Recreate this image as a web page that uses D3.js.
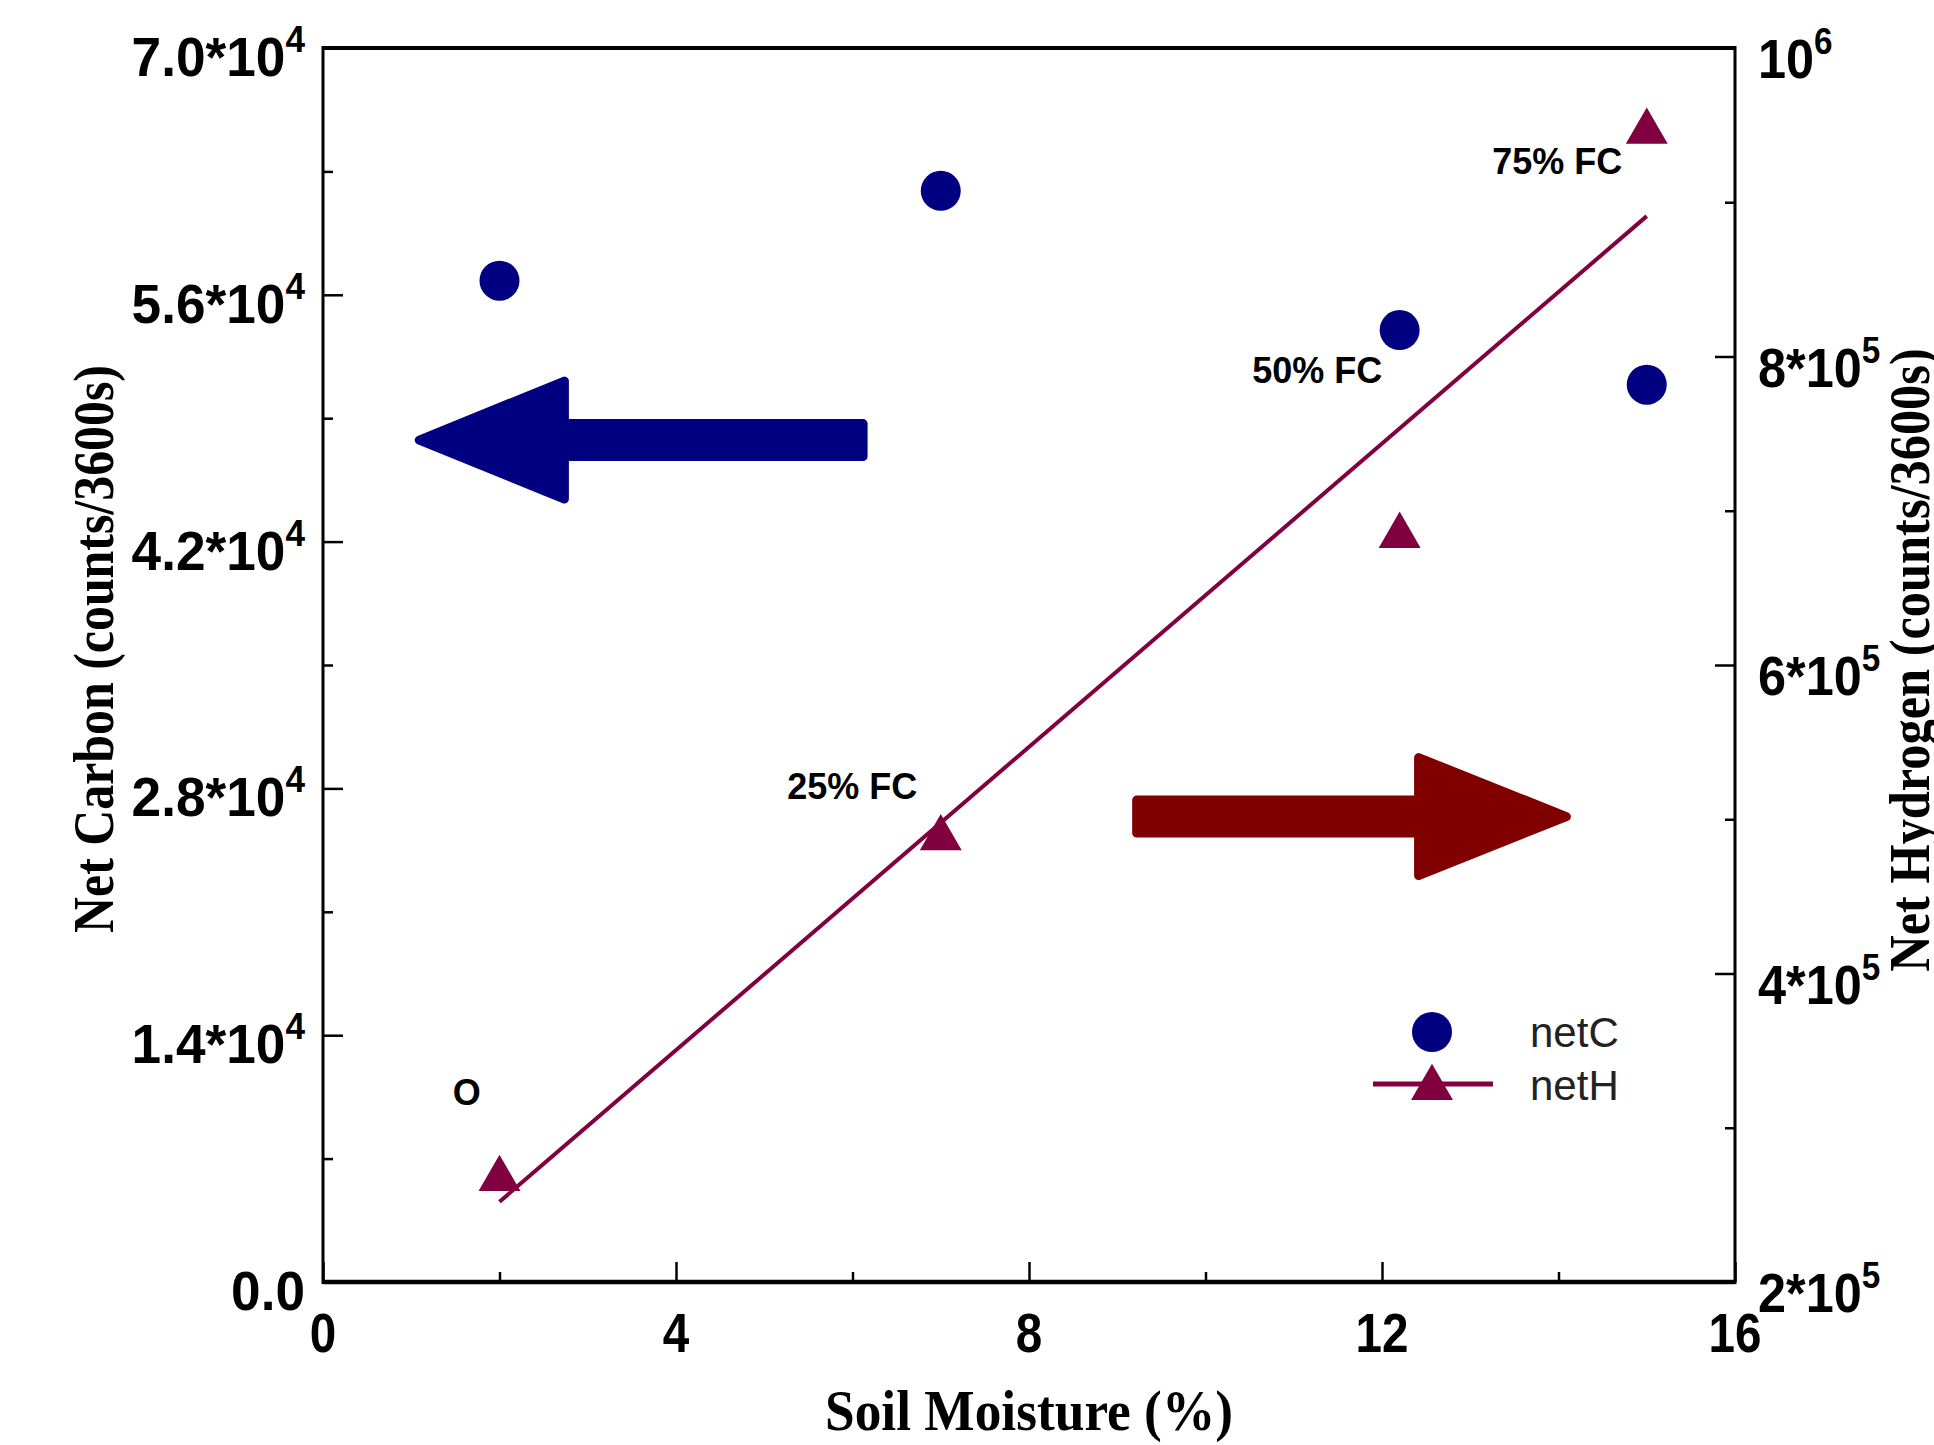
<!DOCTYPE html>
<html>
<head>
<meta charset="utf-8">
<script src="https://cdn.jsdelivr.net/npm/d3@7"></script>
<style>
  body { margin: 0; background: #fff; }
  svg { display: block; }
</style>
</head>
<body>
<div id="chart"></div>
<script>
// soil moisture (%) of the four samples
const moisture = [2, 7, 12.2, 15];
// net carbon, left axis
const netC = [56800, 61900, 54000, 50900];
// net hydrogen, right axis
const netH = [270000, 491000, 687000, 949000];
// fitted line for netH (end points)
const fitX = [2, 15];
const fitH = [252000, 891000];

const xTicks = [0, 4, 8, 12, 16];
const xMinor = [2, 6, 10, 14];
const leftTicks = [0, 14000, 28000, 42000, 56000, 70000];
const leftLabels = ["0.0", "1.4", "2.8", "4.2", "5.6", "7.0"];
const leftMinor = [7000, 21000, 35000, 49000, 63000];
const rightTicks = [200000, 400000, 600000, 800000, 1000000];
const rightBase = ["2*10", "4*10", "6*10", "8*10", "10"];
const rightSup = ["5", "5", "5", "5", "6"];
const rightMinor = [300000, 500000, 700000, 900000];

// field capacity notes (x in %, y on the hydrogen axis)
const fcText = ["O", "25% FC", "50% FC", "75% FC"];
const fcX = [1.47, 5.26, 10.53, 13.25];
const fcY = [315000, 513000, 783000, 918000];

// big arrows pointing to each axis: [tip, head base, tail] in %, y on carbon axis
const arrowX = [[1.0, 2.69, 6.12], [14.18, 12.46, 9.22]];
const arrowY = [47760, 26400];
const arrowColor = ["#000080", "#800000"];

const width = 1934, height = 1445;
const m = { left: 323, right: 1735, top: 48, bottom: 1282 };
const blue = "#000080", plum = "#800040";
const sans = "'Liberation Sans', Arial, sans-serif";
const serif = "'Liberation Serif', 'Times New Roman', serif";

const svg = d3.select("#chart").append("svg")
    .attr("width", width)
    .attr("height", height);

svg.append("rect").attr("width", width).attr("height", height).attr("fill", "#fff");

const x = d3.scaleLinear().domain([0, 16]).range([m.left, m.right]);
const yC = d3.scaleLinear().domain([0, 70000]).range([m.bottom, m.top]);
const yH = d3.scaleLinear().domain([200000, 1000000]).range([m.bottom, m.top]);

// ticks, pointing inward
function tickAxis(axis, vals, size, tr) {
    svg.append("g")
        .attr("transform", tr)
        .call(axis.tickValues(vals).tickSize(size).tickFormat(""))
        .call(g => g.select(".domain").remove())
        .call(g => g.selectAll("line").attr("stroke", "#000").attr("stroke-width", 2.5));
}
tickAxis(d3.axisBottom(x), xTicks, -20, `translate(0,${m.bottom})`);
tickAxis(d3.axisBottom(x), xMinor, -10, `translate(0,${m.bottom})`);
tickAxis(d3.axisLeft(yC), leftTicks, -20, `translate(${m.left},0)`);
tickAxis(d3.axisLeft(yC), leftMinor, -10, `translate(${m.left},0)`);
tickAxis(d3.axisRight(yH), rightTicks, -20, `translate(${m.right},0)`);
tickAxis(d3.axisRight(yH), rightMinor, -10, `translate(${m.right},0)`);

// frame
svg.append("line").attr("x1", m.left).attr("x2", m.right).attr("y1", m.top).attr("y2", m.top)
    .attr("stroke", "#000").attr("stroke-width", 4);
svg.append("line").attr("x1", m.left).attr("x2", m.right).attr("y1", m.bottom).attr("y2", m.bottom)
    .attr("stroke", "#000").attr("stroke-width", 4.5);
svg.append("line").attr("x1", m.left).attr("x2", m.left).attr("y1", m.top - 2).attr("y2", m.bottom + 2)
    .attr("stroke", "#000").attr("stroke-width", 3);
svg.append("line").attr("x1", m.right).attr("x2", m.right).attr("y1", m.top - 2).attr("y2", m.bottom + 2)
    .attr("stroke", "#000").attr("stroke-width", 3);

// x tick labels
svg.append("g").selectAll("text")
    .data(xTicks)
    .join("text")
    .attr("transform", d => `translate(${x(d)},1352) scale(0.85,1)`)
    .attr("text-anchor", "middle")
    .style("font-family", sans).style("font-weight", "bold").style("font-size", "56px")
    .text(d => d);

// left tick labels
const lt = svg.append("g").selectAll("text")
    .data(leftTicks)
    .join("text")
    .attr("transform", d => `translate(305,${yC(d) + 28}) scale(0.95,1)`)
    .attr("text-anchor", "end")
    .style("font-family", sans).style("font-weight", "bold").style("font-size", "56px");
lt.each(function (d, i) {
    const t = d3.select(this);
    if (d === 0) { t.text(leftLabels[i]); return; }
    t.append("tspan").text(leftLabels[i] + "*10");
    t.append("tspan").attr("dy", -24).style("font-size", "37px").text("4");
});

// right tick labels
const rt = svg.append("g").selectAll("text")
    .data(rightTicks)
    .join("text")
    .attr("transform", d => `translate(1758,${yH(d) + 30}) scale(0.9,1)`)
    .style("font-family", sans).style("font-weight", "bold").style("font-size", "56px");
rt.each(function (d, i) {
    const t = d3.select(this);
    t.append("tspan").text(rightBase[i]);
    t.append("tspan").attr("dy", -24).style("font-size", "37px").text(rightSup[i]);
});

// axis titles
svg.append("text")
    .attr("transform", `translate(1029,1430) scale(0.92,1)`)
    .attr("text-anchor", "middle")
    .style("font-family", serif).style("font-weight", "bold").style("font-size", "58px")
    .text("Soil Moisture (%)");
svg.append("text")
    .attr("transform", `translate(113,649) rotate(-90) scale(0.86,1)`)
    .attr("text-anchor", "middle")
    .style("font-family", serif).style("font-weight", "bold").style("font-size", "58px")
    .text("Net Carbon (counts/3600s)");
svg.append("text")
    .attr("transform", `translate(1929,660) rotate(-90) scale(0.9,1)`)
    .attr("text-anchor", "middle")
    .style("font-family", serif).style("font-weight", "bold").style("font-size", "56px")
    .text("Net Hydrogen (counts/3600s)");

// arrows
const hh = 59, sh = 16.5;
svg.append("g").selectAll("path")
    .data(arrowX)
    .join("path")
    .attr("d", (a, i) => {
        const y0 = yC(arrowY[i]);
        const dir = Math.sign(x(a[1]) - x(a[0]));
        const tip = x(a[0]) + dir * 8, base = x(a[1]) + dir * 4, tail = x(a[2]);
        return `M${tip},${y0}L${base},${y0 - hh}L${base},${y0 - sh}L${tail},${y0 - sh}` +
            `L${tail},${y0 + sh}L${base},${y0 + sh}L${base},${y0 + hh}Z`;
    })
    .attr("fill", (a, i) => arrowColor[i])
    .attr("stroke", (a, i) => arrowColor[i])
    .attr("stroke-width", 9)
    .attr("stroke-linejoin", "round");

// fitted netH line
svg.append("path")
    .datum(fitX.map((d, i) => [d, fitH[i]]))
    .attr("d", d3.line().x(d => x(d[0])).y(d => yH(d[1])))
    .attr("fill", "none")
    .attr("stroke", plum)
    .attr("stroke-width", 4);

const tri = d3.symbol().type(d3.symbolTriangle).size(760);

// netC points
svg.append("g").selectAll("circle")
    .data(moisture)
    .join("circle")
    .attr("cx", d => x(d))
    .attr("cy", (d, i) => yC(netC[i]))
    .attr("r", 20)
    .attr("fill", blue);

// netH points
svg.append("g").selectAll("path")
    .data(moisture)
    .join("path")
    .attr("transform", (d, i) => `translate(${x(d)},${yH(netH[i]) + 5})`)
    .attr("d", tri)
    .attr("fill", plum);

// FC labels
svg.append("g").selectAll("text")
    .data(fcText)
    .join("text")
    .attr("x", (d, i) => x(fcX[i]))
    .attr("y", (d, i) => yH(fcY[i]))
    .style("font-family", sans).style("font-weight", "bold").style("font-size", "36px")
    .text(d => d);

// legend
const lg = svg.append("g");
lg.append("circle").attr("cx", 1432).attr("cy", 1032).attr("r", 20).attr("fill", blue);
lg.append("line").attr("x1", 1373).attr("x2", 1493).attr("y1", 1084).attr("y2", 1084)
    .attr("stroke", plum).attr("stroke-width", 5);
lg.append("path").attr("transform", "translate(1432,1088)").attr("d", tri).attr("fill", plum);
lg.append("text").attr("x", 1530).attr("y", 1047)
    .style("font-family", sans).style("font-size", "42px").attr("fill", "#222").text("netC");
lg.append("text").attr("x", 1530).attr("y", 1100)
    .style("font-family", sans).style("font-size", "42px").attr("fill", "#222").text("netH");
</script>
</body>
</html>
